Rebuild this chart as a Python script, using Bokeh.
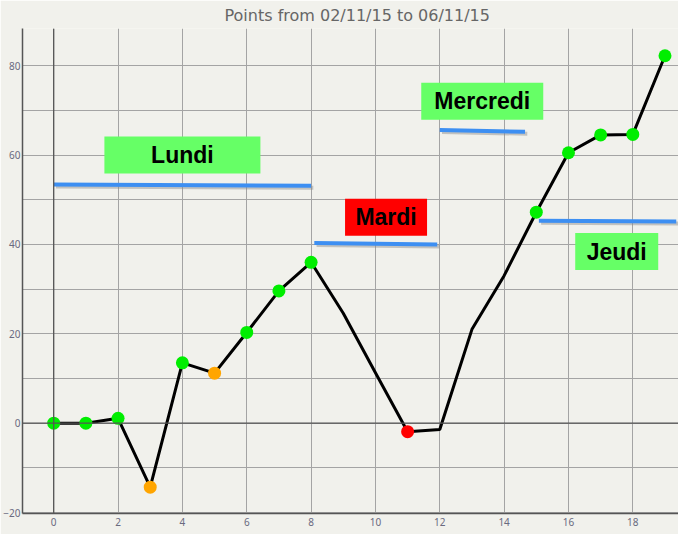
from bokeh.plotting import figure
from bokeh.models import ColumnDataSource, SingleIntervalTicker, Span
from bokeh.transform import dodge
from bokeh.core.properties import value
from bokeh.embed import file_html
from bokeh.resources import INLINE

# points per day index
days = list(range(20))
points = [0, 0, 1.1, -14.3, 13.5, 11.2, 20.3, 29.6, 36.0, 24.6,
          11.3, -1.9, -1.4, 21.0, 33.0, 47.2, 60.5, 64.5, 64.6, 82.2]
# marker status per point ("" = no marker)
status = ["good", "good", "good", "warn", "good", "warn", "good", "good", "good", "",
          "", "bad", "", "", "", "good", "good", "good", "good", "good"]

# weekday average lines
week_days = ["Lundi", "Mardi", "Mercredi", "Jeudi"]
seg_x0 = [0, 8.1, 12.0, 15.08]
seg_x1 = [8, 11.92, 14.65, 19.35]
seg_y0 = [53.4, 40.3, 65.6, 45.3]
seg_y1 = [53.1, 40.0, 65.2, 45.1]

# weekday label boxes
label_x = [4.0, 10.33, 13.32, 17.5]
label_y = [60.0, 46.1, 72.0, 38.4]
label_state = ["good", "bad", "good", "good"]

STATUS_COLORS = {"good": "#00ee00", "warn": "#ffa500", "bad": "#ff0000"}
BOX_COLORS = {"good": "#66ff66", "bad": "#ff0000"}
BOX_WIDTHS = [156, 82, 122, 83]
BG = "#f1f1ec"

p = figure(width=678, height=534, output_backend="svg", toolbar_location=None,
           x_range=(-0.97, 19.42), y_range=(-20.2, 88.3),
           title="Points from 02/11/15 to 06/11/15",
           min_border_left=0, min_border_right=0, min_border_top=0, min_border_bottom=21)
p.background_fill_color = BG
p.border_fill_color = BG
p.outline_line_color = None

p.title.text_font = "DejaVu Sans"
p.title.text_font_size = "16px"
p.title.text_font_style = "normal"
p.title.text_color = "#666666"
p.title.align = "left"
p.title.offset = 202
p.title.standoff = 7

p.xaxis.ticker = SingleIntervalTicker(interval=2)
p.yaxis.ticker = SingleIntervalTicker(interval=20)
p.xgrid.ticker = SingleIntervalTicker(interval=2)
p.ygrid.ticker = SingleIntervalTicker(interval=10)
for g in (p.xgrid, p.ygrid):
    g.grid_line_color = "#a4a4a4"
    g.grid_line_width = 1
for ax in (p.xaxis, p.yaxis):
    ax.axis_line_color = "#555555"
    ax.axis_line_width = 1.5
    ax.major_tick_out = 0
    ax.major_tick_in = 0
    ax.minor_tick_out = 0
    ax.minor_tick_in = 0
    ax.major_label_text_font = "Noto Sans"
    ax.major_label_text_font_size = "10px"
    ax.major_label_text_color = "#6a6a80"
p.xaxis.major_label_standoff = 4
p.yaxis.major_label_standoff = 2

p.add_layout(Span(location=0, dimension="height", line_color="#555555", line_width=1.3))
p.add_layout(Span(location=0, dimension="width", line_color="#555555", line_width=1.3))

# weekday lines with a soft shadow
segs = ColumnDataSource(dict(x0=seg_x0, x1=seg_x1, y0=seg_y0, y1=seg_y1))
p.segment(x0=dodge("x0", 0.07, range=p.x_range), x1=dodge("x1", 0.07, range=p.x_range),
          y0=dodge("y0", -0.45, range=p.y_range), y1=dodge("y1", -0.45, range=p.y_range),
          source=segs, line_color="#8a8a8a", line_alpha=0.45, line_width=4)
p.segment(x0="x0", x1="x1", y0="y0", y1="y1", source=segs,
          line_color="#3d8ff2", line_width=4)

# points line and markers
p.line(days, points, line_color="black", line_width=3)
mk = [i for i, s in enumerate(status) if s]
p.scatter([days[i] for i in mk], [points[i] for i in mk], size=13,
          fill_color=[STATUS_COLORS[status[i]] for i in mk], line_color=None)

# weekday labels
labels = ColumnDataSource(dict(x=label_x, y=label_y, text=week_days, w=BOX_WIDTHS,
                               color=[BOX_COLORS[s] for s in label_state]))
p.rect(x="x", y="y", width="w", height=37, width_units="screen", height_units="screen",
       source=labels, fill_color="color", line_color=None)
p.text(x="x", y="y", text="text", source=labels, text_align="center",
       text_baseline="middle", text_font=value("Liberation Sans"),
       text_font_style="bold", text_font_size="23px", text_color="black")

open("out.html", "w").write(file_html(p, INLINE))
